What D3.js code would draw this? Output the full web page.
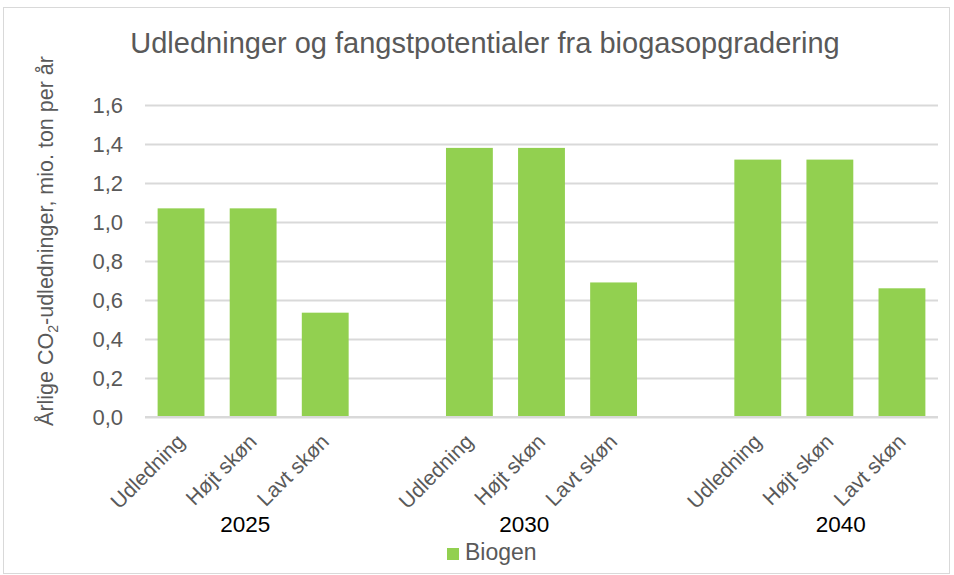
<!DOCTYPE html>
<html><head><meta charset="utf-8">
<script src="https://cdn.jsdelivr.net/npm/d3@7"></script>
<style>body{margin:0;background:#fff}text{font-family:"Liberation Sans",Arial,sans-serif}</style>
</head><body><svg id="c" width="954" height="575"></svg>
<script>
const years = ["2025","2030","2040"];
const scenarios = ["Udledning","Højt skøn","Lavt skøn"];
const biogen = [
  [1.07, 1.07, 0.535],
  [1.38, 1.38, 0.69],
  [1.32, 1.32, 0.66]
];
const yTicks = [0,0.2,0.4,0.6,0.8,1.0,1.2,1.4,1.6];
const title = "Udledninger og fangstpotentialer fra biogasopgradering";
const seriesName = "Biogen";

const svg = d3.select("#c");
const grey = "#595959", col = "#92d050", grid = "#d9d9d9";
const L = 145, R = 938, T = 105, B = 417;

svg.append("rect").attr("x",3.5).attr("y",7.5).attr("width",946).attr("height",566)
  .attr("fill","#fff").attr("stroke","#d9d9d9");

const slots = [];
years.forEach((yr,gi)=>{
  scenarios.forEach((s,si)=>slots.push({key:yr+"|"+s, yr, s, v:biogen[gi][si]}));
  if (gi < years.length-1) slots.push({key:"gap"+gi, gap:true});
});
const x = d3.scaleBand().domain(slots.map(d=>d.key)).range([L,R]).paddingInner(0.35).paddingOuter(0.175);
const y = d3.scaleLinear().domain([0,1.6]).range([B,T]);

const ya = svg.append("g").attr("transform",`translate(${L},0)`)
  .call(d3.axisLeft(y).tickValues(yTicks).tickSize(-(R-L)).tickFormat(d=>d3.format(".1f")(d).replace(".",",")));
ya.select(".domain").remove();
ya.selectAll(".tick line").attr("stroke",grid).attr("stroke-width",2);
ya.selectAll(".tick text").attr("fill",grey).attr("font-size",22).attr("x",-22).attr("dy","0.35em");

svg.append("g").selectAll("rect").data(slots.filter(d=>!d.gap)).join("rect")
  .attr("x",d=>x(d.key)).attr("width",x.bandwidth())
  .attr("y",d=>y(d.v)).attr("height",d=>y(0)-y(d.v)).attr("fill",col);

svg.append("line").attr("x1",L).attr("x2",R).attr("y1",B).attr("y2",B).attr("stroke",grid).attr("stroke-width",2);

svg.append("g").selectAll("text").data(slots.filter(d=>!d.gap)).join("text")
  .attr("transform",d=>`translate(${x(d.key)+x.bandwidth()/2+5},${B+26}) rotate(-45)`)
  .attr("text-anchor","end").attr("font-size",21).attr("fill",grey).text(d=>d.s);

const step = x.step();
const yearPos = [1.39, 5.26, 9.65];
svg.append("g").selectAll("text").data(years).join("text")
  .attr("x",(d,i)=>L+step*yearPos[i]).attr("y",532).attr("text-anchor","middle")
  .attr("font-size",22.5).attr("fill","#000").text(d=>d);

svg.append("text").attr("x",485).attr("y",53).attr("text-anchor","middle")
  .attr("font-size",29).attr("fill",grey).text(title);

const yl = svg.append("text").attr("transform","translate(53,241) rotate(-90)")
  .attr("text-anchor","middle").attr("font-size",21.5).attr("fill",grey);
yl.append("tspan").text("Årlige CO");
yl.append("tspan").attr("font-size",14).attr("dy",5).text("2");
yl.append("tspan").attr("dy",-5).text("-udledninger, mio. ton per år");

svg.append("rect").attr("x",447).attr("y",548).attr("width",12).attr("height",12).attr("fill",col);
svg.append("text").attr("x",465).attr("y",560).attr("font-size",23).attr("fill",grey).text(seriesName);
</script></body></html>
